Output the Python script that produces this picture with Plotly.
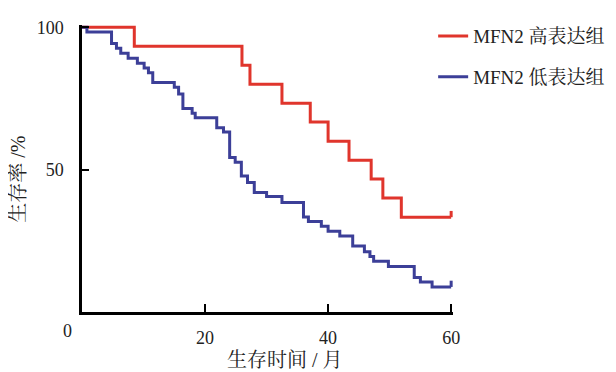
import plotly.graph_objects as go

# High expression group (MFN2 高表达组)
high_times = [8.5, 26.0, 27.3, 32.5, 37.1, 40.0, 43.4, 47.0, 48.9, 51.9]
high_surv = [93.3, 86.7, 80.0, 73.3, 66.7, 60.0, 53.3, 46.7, 40.0, 33.3]

# Low expression group (MFN2 低表达组)
low_times = [0.8, 4.8, 5.6, 6.3, 7.5, 9.0, 10.1, 10.8, 11.5, 15.0, 15.7, 16.4,
             17.9, 18.4, 21.9, 23.0, 24.0, 24.9, 25.9, 26.9, 28.0, 30.0, 32.5,
             36.0, 36.8, 38.9, 40.0, 41.9, 44.0, 45.9, 46.8, 47.4, 49.8, 54.0,
             55.0, 56.9]
low_surv = [98.3, 94.3, 92.6, 90.9, 89.1, 87.4, 85.7, 84.0, 80.6, 78.9, 76.6, 71.5,
            69.8, 68.2, 64.7, 63.2, 54.3, 52.6, 47.8, 45.5, 42.0, 40.6, 38.5,
            33.4, 31.8, 30.1, 28.4, 26.7, 23.2, 21.2, 19.5, 17.8, 16.0, 12.1,
            10.5, 8.8]

follow_up_end = 60
x_ticks = [20, 40, 60]
y_ticks = [50, 100]

names = ["MFN2 高表达组", "MFN2 低表达组"]
colors = ["#e0352c", "#3c3f98"]

font_fam = "Liberation Serif, Times New Roman, Noto Serif CJK SC, Noto Sans CJK SC, serif"

fig = go.Figure()
for name, color, times, surv in [(names[0], colors[0], high_times, high_surv),
                                 (names[1], colors[1], low_times, low_surv)]:
    xs = [0] + times + [follow_up_end]
    ys = [100] + surv + [surv[-1]]
    fig.add_trace(go.Scatter(x=xs, y=ys, mode="lines", line_shape="hv",
                             line=dict(color=color, width=3), name=name,
                             legendgroup=name, showlegend=True))
    # censoring tick at the end of follow-up
    fig.add_trace(go.Scatter(x=[follow_up_end, follow_up_end],
                             y=[surv[-1], surv[-1] + 2.2], mode="lines",
                             line=dict(color=color, width=3),
                             legendgroup=name, showlegend=False, hoverinfo="skip"))

# page body has an 8px margin, so figure pixels = screen pixels - 8
OFF = 8
L, T = 82 - OFF, 17 - OFF
plot_h = 312 - 17
plot_w = 369 * 60.3 / 60
B = 372 - T - plot_h
R = 616 - L - plot_w

def sx(xs):
    return (xs - OFF - L) / plot_w

def sy(ys):
    return (372 - B - (ys - OFF)) / plot_h

fig.update_layout(
    width=616, height=372,
    margin=dict(l=L, r=R, t=T, b=B),
    paper_bgcolor="white", plot_bgcolor="white",
    font=dict(family=font_fam, size=18, color="#222"),
    showlegend=True,
    legend=dict(x=sx(433), y=sy(9), xanchor="left", yanchor="top",
                font=dict(family=font_fam, size=19, color="#222"),
                tracegroupgap=13, bgcolor="rgba(0,0,0,0)"),
    xaxis=dict(range=[0, 60.3], tickvals=x_ticks, ticktext=[str(v) for v in x_ticks],
               ticks="inside", ticklen=8, tickwidth=2, tickcolor="black",
               showline=True, linecolor="black", linewidth=2.5,
               showgrid=False, zeroline=False, ticklabelstandoff=8, automargin=False),
    yaxis=dict(range=[0, 100.8], tickvals=y_ticks, ticktext=[str(v) for v in y_ticks],
               ticks="inside", ticklen=7, tickwidth=2, tickcolor="black",
               showline=True, linecolor="black", linewidth=2.5,
               showgrid=False, zeroline=False, ticklabelstandoff=12, automargin=False),
    annotations=[
        dict(text="0", x=sx(68), y=sy(332), xref="paper", yref="paper",
             xanchor="center", yanchor="middle", showarrow=False),
        dict(text="生存时间 / 月", xref="paper", yref="paper", x=sx(285), y=sy(361),
             xanchor="center", yanchor="middle", showarrow=False,
             font=dict(family=font_fam, size=20, color="#222")),
        dict(text="生存率 /%", xref="paper", yref="paper", x=sx(18), y=sy(175),
             xanchor="center", yanchor="middle", textangle=-90, showarrow=False,
             font=dict(family=font_fam, size=20, color="#222")),
    ],
)

fig.write_html("out.html")
